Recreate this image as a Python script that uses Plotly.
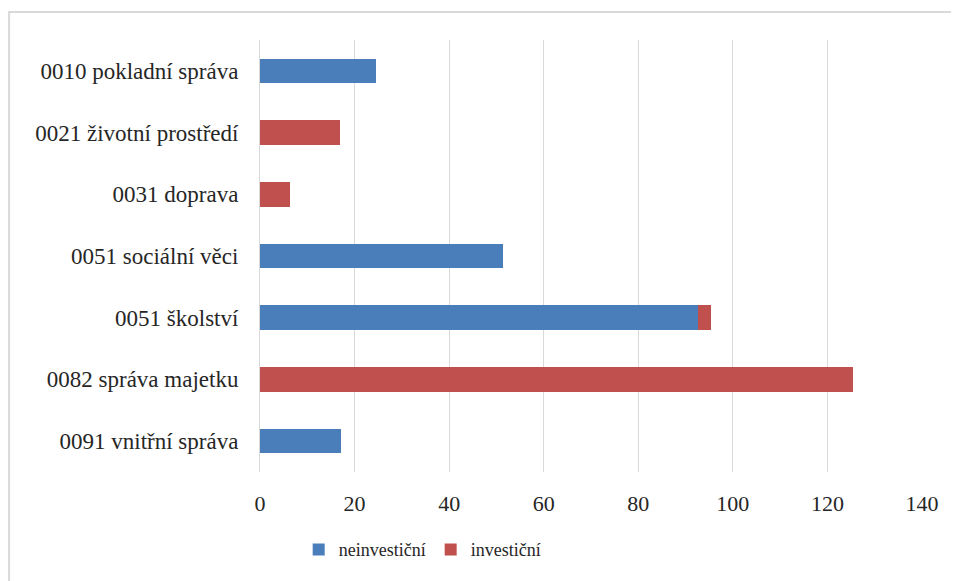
import plotly.graph_objects as go

categories = ["0010 pokladní správa", "0021 životní prostředí", "0031 doprava",
              "0051 sociální věci", "0051 školství", "0082 správa majetku",
              "0091 vnitřní správa"]
neinvesticni = [24.5, 0, 0, 51.4, 92.6, 0, 17.1]
investicni = [0, 16.9, 6.3, 0, 2.7, 125.4, 0]
x_ticks = [0, 20, 40, 60, 80, 100, 120, 140]

font = "Liberation Serif"

fig = go.Figure()
fig.add_trace(go.Bar(y=categories, x=neinvesticni, name="neinvestiční", orientation="h",
                     marker=dict(color="#4a7ebb", line=dict(width=0))))
fig.add_trace(go.Bar(y=categories, x=investicni, name="investiční", orientation="h",
                     marker=dict(color="#c0504d", line=dict(width=0))))

fig.update_layout(
    template="none",
    barmode="stack", bargap=0.6,
    width=959, height=581,
    margin=dict(l=252, r=45, t=32, b=117, autoexpand=False),
    paper_bgcolor="white", plot_bgcolor="white",
    font=dict(family=font, size=20, color="#262626"),
    showlegend=True,
    legend=dict(orientation="h", x=0.245, xanchor="center", y=-0.18, yanchor="middle",
                font=dict(family=font, size=18), traceorder="normal", itemwidth=30),
    shapes=[dict(type="rect", xref="paper", yref="paper", x0=-0.379, x1=1.2,
                 y0=-0.5, y1=1.065, line=dict(color="#d9d9d9", width=2), layer="below")],
)
fig.update_xaxes(range=[0, 140], tickvals=x_ticks, showgrid=True, gridcolor="#d9d9d9",
                 gridwidth=1, zeroline=False, showline=False, ticks="",
                 ticklabelstandoff=16, tickfont=dict(family=font, size=22), automargin=False)
fig.update_yaxes(categoryorder="array", categoryarray=categories[::-1],
                 showline=True, linecolor="#d9d9d9", linewidth=1, ticks="", showgrid=False,
                 ticklabelstandoff=16, tickfont=dict(family=font, size=23), automargin=False)

fig.write_html("out.html")
